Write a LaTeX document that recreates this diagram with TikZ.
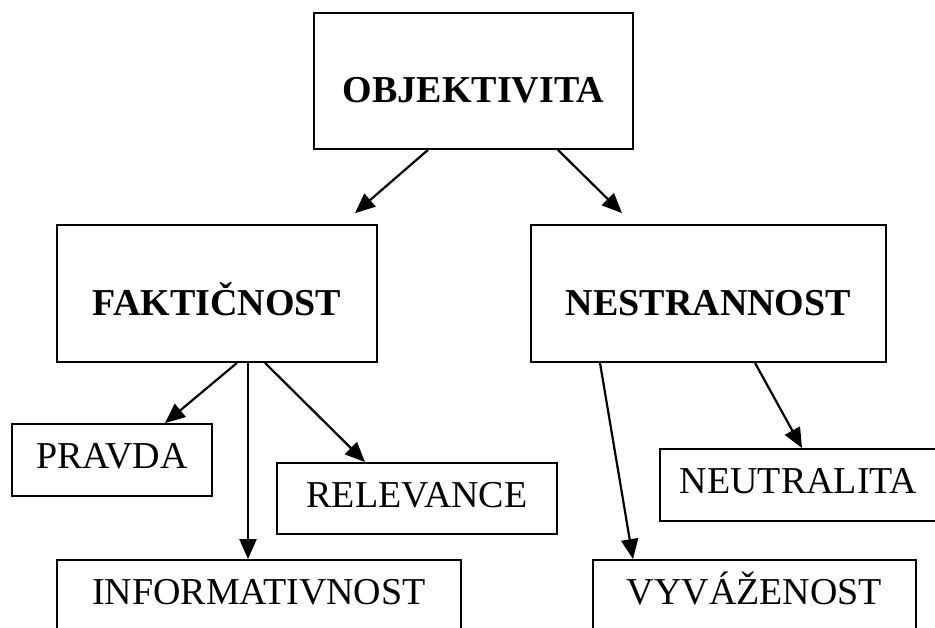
\documentclass[tikz,border=0pt]{standalone}
\usepackage{fontspec}
\setmainfont{Liberation Serif}
\usetikzlibrary{arrows.meta,positioning}

\begin{document}
\begin{tikzpicture}[x=1pt, y=-1pt,
    box/.style={draw, line width=1.8pt, inner sep=0pt, font=\fontsize{38}{42}\selectfont, text height=25pt, text depth=8pt},
    head/.style={box, font=\fontsize{38}{42}\selectfont\bfseries, text height=43pt, text depth=0pt},
    cut/.style={box, minimum height=120pt, text depth=56pt},
    arr/.style={line width=2.2pt, -{Triangle[length=20pt, width=17pt]}}]
    % Frame
    \useasboundingbox (0, 0) rectangle (935, 627);
    \clip (0, 0) rectangle (935, 627);

    % Top
    \node[head, minimum width=319pt, minimum height=136pt] (objektivita) at (473.5, 81) {OBJEKTIVITA};

    % Middle row
    \node[head, minimum width=320pt, minimum height=137pt] (fakticnost) at (217, 293.5) {FAKTIČNOST};
    \node[head, minimum width=355pt, minimum height=137pt] (nestrannost) at (708.5, 293.5) {NESTRANNOST};

    % Bottom rows
    \node[box, minimum width=200pt, minimum height=72pt] (pravda) at (112, 460) {PRAVDA};
    \node[box, minimum width=280pt, minimum height=71pt] (relevance) at (417, 498.5) {RELEVANCE};
    \node[box, minimum width=277pt, minimum height=72pt] (neutralita) at (798.5, 485) {NEUTRALITA};
    \node[cut, minimum width=404pt] (informativnost) at (259, 620) {INFORMATIVNOST};
    \node[cut, minimum width=323pt] (vyvazenost) at (754.5, 620) {VYVÁŽENOST};

    % Arrows from the top
    \draw[arr] ([xshift=-45.5pt]objektivita.south) -- ([xshift=138pt, yshift=11pt]fakticnost.north);
    \draw[arr] ([xshift=84.5pt]objektivita.south) -- ([xshift=-86.5pt, yshift=11pt]nestrannost.north);

    % Arrows from the middle
    \draw[arr] ([xshift=20pt]fakticnost.south) -- ([xshift=53pt]pravda.north);
    \draw[arr] ([xshift=31pt]fakticnost.south) -- ([xshift=-11pt]informativnost.north);
    \draw[arr] ([xshift=48pt]fakticnost.south) -- ([xshift=-52pt]relevance.north);
    \draw[arr] ([xshift=-108.5pt]nestrannost.south) -- ([xshift=-121.5pt]vyvazenost.north);
    \draw[arr] ([xshift=46.5pt]nestrannost.south) -- ([xshift=3.5pt]neutralita.north);
\end{tikzpicture}
\end{document}
